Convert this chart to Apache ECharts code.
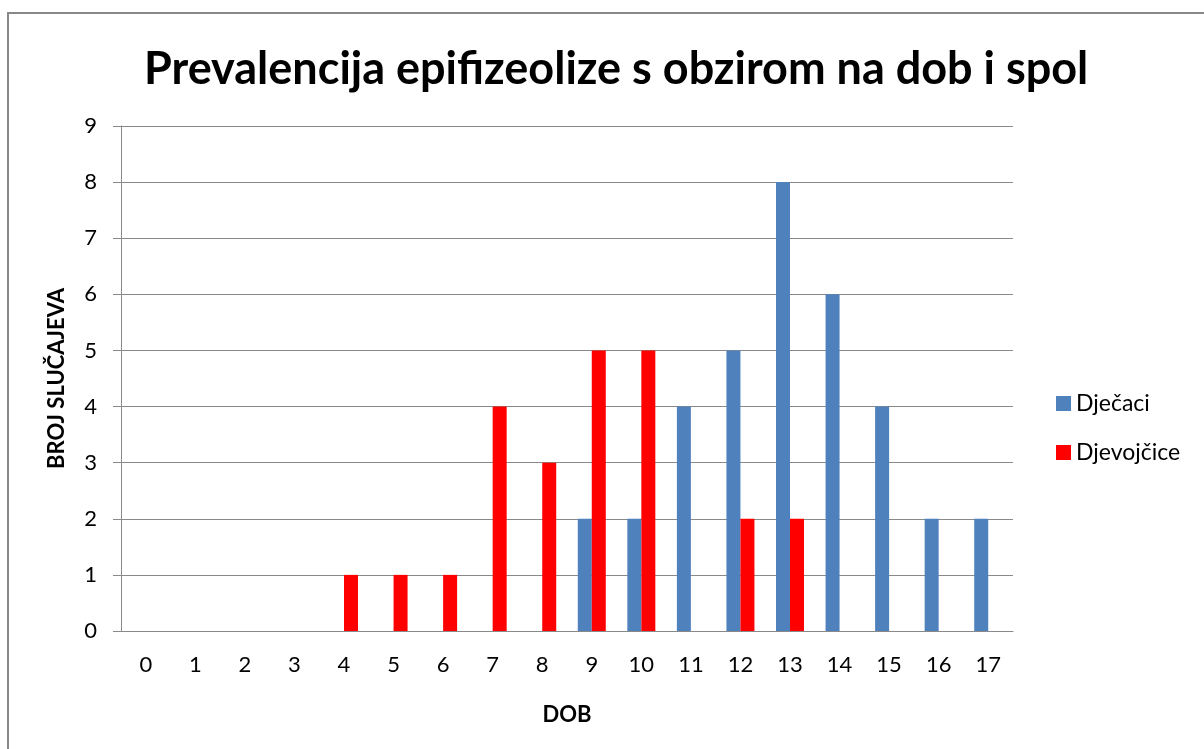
<!DOCTYPE html>
<html>
<head>
<meta charset="utf-8">
<script src="https://cdn.jsdelivr.net/npm/echarts@6/dist/echarts.min.js"></script>
<style>
  html, body { margin: 0; padding: 0; background: #fff; }
  #chart { width: 1204px; height: 749px; }
</style>
</head>
<body>
<div id="chart"></div>
<script>
// dob (godine)
const ages = ['0', '1', '2', '3', '4', '5', '6', '7', '8', '9', '10', '11', '12', '13', '14', '15', '16', '17'];
const djecaci = [0, 0, 0, 0, 0, 0, 0, 0, 0, 2, 2, 4, 5, 8, 6, 4, 2, 2];
const djevojcice = [0, 0, 0, 0, 1, 1, 1, 4, 3, 5, 5, 0, 2, 2, 0, 0, 0, 0];
const yTicks = [0, 1, 2, 3, 4, 5, 6, 7, 8, 9];

const FONT = 'Lato, "Open Sans", sans-serif';
const GREY = '#898989';

const chart = echarts.init(document.getElementById('chart'));

chart.setOption({
    animation: false,
    textStyle: { fontFamily: FONT, color: '#000' },
    graphic: [
        {
            // okvir grafikona
            type: 'rect',
            shape: { x: 8, y: 13, width: 1400, height: 900 },
            style: { fill: 'none', stroke: GREY, lineWidth: 2 },
            silent: true
        }
    ],
    title: {
        text: 'Prevalencija epifizeolize s obzirom na dob i spol',
        left: 139,
        top: 42,
        textStyle: { fontFamily: FONT, fontSize: 45, fontWeight: 'bold', color: '#000' }
    },
    legend: {
        orient: 'vertical',
        left: 1051,
        top: 387,
        itemWidth: 15,
        itemHeight: 15,
        itemGap: 26,
        icon: 'rect',
        textStyle: { fontFamily: FONT, fontSize: 23, color: '#000', padding: [0, 0, 0, 0] },
        data: ['Dječaci', 'Djevojčice']
    },
    grid: { left: 121, right: 191, top: 126, bottom: 118, containLabel: false },
    xAxis: {
        type: 'category',
        data: ages,
        name: 'DOB',
        nameLocation: 'middle',
        nameGap: 73,
        nameTextStyle: { fontFamily: FONT, fontSize: 22, fontWeight: 'bold', color: '#000' },
        axisLine: { lineStyle: { color: GREY, width: 1 } },
        axisTick: { show: false },
        axisLabel: { fontFamily: FONT, fontSize: 22, color: '#000', margin: 23 }
    },
    yAxis: {
        type: 'value',
        min: yTicks[0],
        max: yTicks[yTicks.length - 1],
        interval: 1,
        name: 'BROJ SLUČAJEVA',
        nameLocation: 'middle',
        nameGap: 53,
        nameRotate: 90,
        nameTextStyle: { fontFamily: FONT, fontSize: 22, fontWeight: 'bold', color: '#000' },
        axisLine: { show: true, lineStyle: { color: GREY, width: 1 } },
        axisTick: { show: true, length: 8, lineStyle: { color: GREY } },
        axisLabel: { fontFamily: FONT, fontSize: 22, color: '#000', margin: 24 },
        splitLine: { lineStyle: { color: GREY, width: 1 } }
    },
    series: [
        {
            name: 'Dječaci',
            type: 'bar',
            data: djecaci,
            barWidth: 14,
            barGap: '0%',
            itemStyle: { color: '#4f81bd' }
        },
        {
            name: 'Djevojčice',
            type: 'bar',
            data: djevojcice,
            barWidth: 14,
            barGap: '0%',
            itemStyle: { color: '#ff0000' }
        }
    ]
});
</script>
</body>
</html>
